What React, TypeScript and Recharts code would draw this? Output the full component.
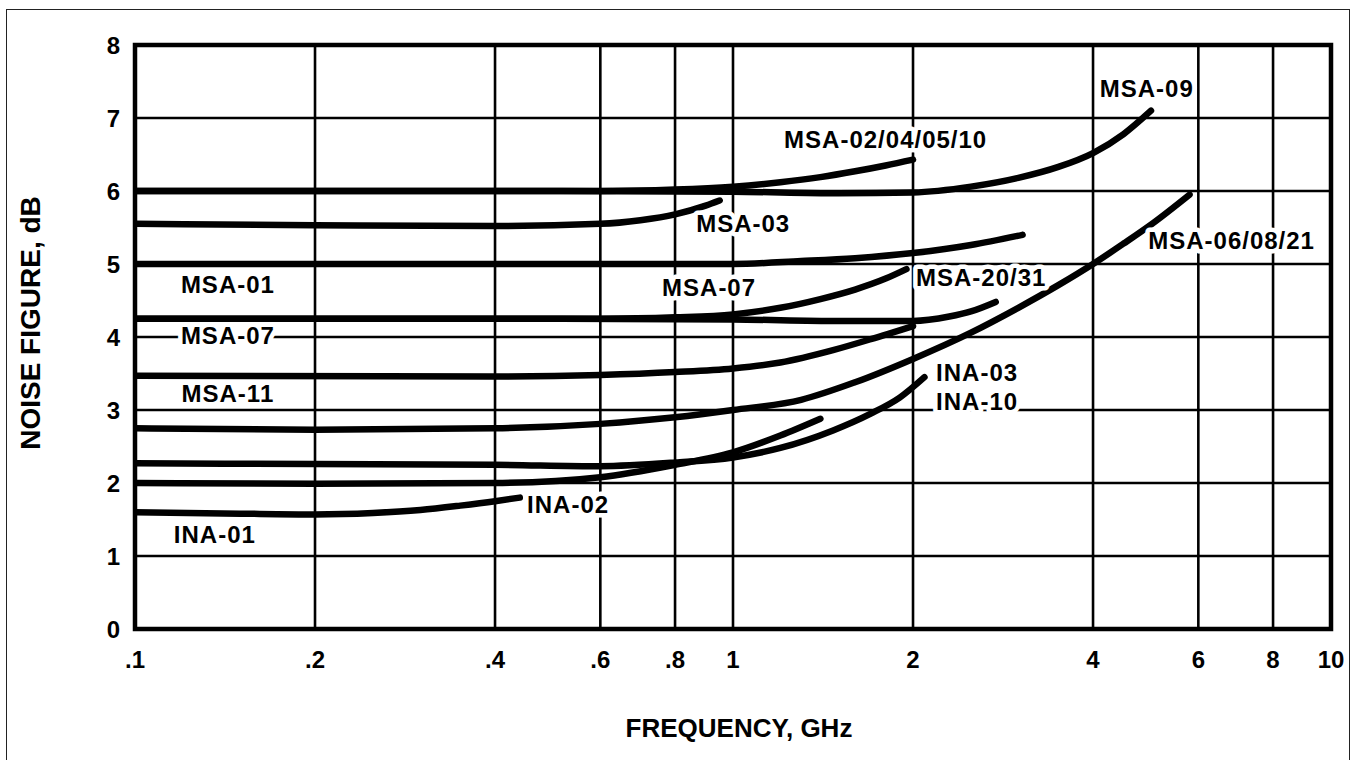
import {
  LineChart,
  Line,
  XAxis,
  YAxis,
  CartesianGrid,
  ReferenceArea,
  ReferenceDot,
} from 'recharts'

// [frequency GHz, noise figure dB]
type Pt = [number, number]

const FREQ_TICKS = [0.1, 0.2, 0.4, 0.6, 0.8, 1, 2, 4, 6, 8, 10]
const NF_TICKS = [0, 1, 2, 3, 4, 5, 6, 7, 8]

const MSA_02_04_05_10: Pt[] = [
  [0.1, 6.0], [0.2, 6.0], [0.4, 6.0], [0.6, 6.0], [0.8, 6.02], [1, 6.06],
  [1.2, 6.12], [1.4, 6.19], [1.6, 6.27], [1.8, 6.35], [2, 6.43],
]
const MSA_09: Pt[] = [
  [0.1, 6.0], [0.4, 6.0], [1, 5.99], [1.5, 5.97], [2, 5.98], [2.5, 6.06],
  [3, 6.18], [3.5, 6.33], [4, 6.52], [4.5, 6.78], [5, 7.1],
]
const MSA_03: Pt[] = [
  [0.1, 5.55], [0.2, 5.53], [0.4, 5.52], [0.6, 5.55], [0.7, 5.6],
  [0.8, 5.68], [0.9, 5.8], [0.95, 5.87],
]
const MSA_01: Pt[] = [
  [0.1, 5.0], [0.4, 5.0], [1, 5.0], [1.3, 5.04], [1.6, 5.08], [2, 5.15],
  [2.5, 5.26], [3.05, 5.4],
]
const MSA_07: Pt[] = [
  [0.1, 4.25], [0.4, 4.25], [0.6, 4.25], [0.8, 4.27], [1, 4.31], [1.2, 4.4],
  [1.4, 4.52], [1.6, 4.65], [1.8, 4.8], [1.95, 4.93],
]
const MSA_20_31: Pt[] = [
  [0.1, 4.25], [0.4, 4.25], [1, 4.24], [1.5, 4.22], [2, 4.22], [2.3, 4.28],
  [2.5, 4.35], [2.75, 4.48],
]
const MSA_11: Pt[] = [
  [0.1, 3.47], [0.4, 3.46], [0.6, 3.48], [0.8, 3.52], [1, 3.57], [1.2, 3.65],
  [1.47, 3.82], [1.7, 3.97], [2, 4.15],
]
const MSA_06_08_21: Pt[] = [
  [0.1, 2.75], [0.2, 2.73], [0.4, 2.75], [0.6, 2.81], [0.8, 2.9], [1, 3.0],
  [1.3, 3.14], [1.6, 3.38], [2, 3.7], [2.5, 4.06], [3, 4.4], [3.5, 4.71],
  [4, 5.0], [4.5, 5.28], [5, 5.54], [5.8, 5.95],
]
const INA_03_10: Pt[] = [
  [0.1, 2.27], [0.2, 2.26], [0.4, 2.25], [0.6, 2.23], [0.8, 2.28], [1, 2.35],
  [1.2, 2.48], [1.47, 2.72], [1.7, 2.95], [1.9, 3.17], [2.09, 3.45],
]
const INA_02: Pt[] = [
  [0.1, 2.0], [0.2, 1.99], [0.4, 2.0], [0.6, 2.08], [0.8, 2.25], [1, 2.42],
  [1.2, 2.65], [1.4, 2.88],
]
const INA_01: Pt[] = [
  [0.1, 1.6], [0.15, 1.58], [0.2, 1.57], [0.25, 1.59], [0.3, 1.63],
  [0.35, 1.69], [0.4, 1.75], [0.44, 1.8],
]

const CURVES = [
  MSA_02_04_05_10, MSA_09, MSA_03, MSA_01, MSA_07, MSA_20_31,
  MSA_11, MSA_06_08_21, INA_03_10, INA_02, INA_01,
]

// curve labels, placed in data coordinates (GHz, dB)
const LABEL_TEXT = [
  'MSA-09', 'MSA-02/04/05/10', 'MSA-03', 'MSA-07', 'MSA-01', 'MSA-07',
  'MSA-11', 'INA-01', 'INA-02', 'MSA-20/31', 'INA-03', 'INA-10', 'MSA-06/08/21',
]
const LABEL_F = [4.92, 1.8, 1.04, 0.912, 0.143, 0.143, 0.143, 0.136, 0.53, 2.6, 2.56, 2.56, 6.82]
const LABEL_NF = [7.4, 6.71, 5.56, 4.68, 4.72, 4.02, 3.23, 1.3, 1.71, 4.82, 3.52, 3.12, 5.32]

const FONT = '"Liberation Sans", Arial, Helvetica, sans-serif'

const fmtFreq = (f: number) => (f < 1 ? `.${Math.round(f * 10)}` : String(f))

export default function App() {
  return (
    <div
      style={{
        position: 'absolute',
        left: 0,
        top: 0,
        width: 1357,
        height: 760,
        overflow: 'hidden',
        background: '#fff',
        fontFamily: FONT,
      }}
    >
      {/* outer frame */}
      <div
        style={{
          position: 'absolute',
          left: 6,
          top: 9,
          width: 1342,
          height: 800,
          border: '1.5px solid #222',
        }}
      />

      <LineChart
        width={1357}
        height={760}
        margin={{ top: 45, right: 26, bottom: 101, left: 75 }}
        style={{ position: 'absolute', left: 0, top: 0 }}
      >
        <CartesianGrid stroke="#000" strokeWidth={2.6} />
        <XAxis
          dataKey="f"
          type="number"
          scale="log"
          domain={[0.1, 10]}
          ticks={FREQ_TICKS}
          tickFormatter={fmtFreq}
          allowDataOverflow
          height={30}
          axisLine={false}
          tickLine={false}
          tickSize={0}
          tickMargin={22}
          tick={{ fill: '#000', fontSize: 24, fontWeight: 700, fontFamily: FONT }}
        />
        <YAxis
          type="number"
          domain={[0, 8]}
          ticks={NF_TICKS}
          width={60}
          axisLine={false}
          tickLine={false}
          tickSize={0}
          tickMargin={15}
          tick={{ fill: '#000', fontSize: 24, fontWeight: 700, fontFamily: FONT }}
        />
        <ReferenceArea
          x1={0.1}
          x2={10}
          y1={0}
          y2={8}
          fill="none"
          stroke="#000"
          strokeWidth={4.5}
          ifOverflow="visible"
        />
        {CURVES.map((pts, i) => (
          <Line
            key={i}
            data={pts.map(([f, nf]) => ({ f, nf }))}
            dataKey="nf"
            type="monotone"
            stroke="#000"
            strokeWidth={6.5}
            strokeLinecap="round"
            dot={false}
            activeDot={false}
            isAnimationActive={false}
          />
        ))}
        {LABEL_TEXT.map((text, i) => (
          <ReferenceDot
            key={text + i}
            x={LABEL_F[i]}
            y={LABEL_NF[i]}
            r={1}
            ifOverflow="visible"
            shape={(p: any) => (
              <text
                x={p.cx}
                y={p.cy}
                textAnchor="middle"
                dominantBaseline="central"
                fontFamily={FONT}
                fontWeight={700}
                fontSize={24}
                letterSpacing={1}
                fill="#000"
                stroke="#fff"
                strokeWidth={9}
                strokeLinejoin="round"
                paintOrder="stroke"
              >
                {text}
              </text>
            )}
          />
        ))}
      </LineChart>

      {/* axis titles */}
      <div
        style={{
          position: 'absolute',
          left: 31,
          top: 323,
          transform: 'translate(-50%, -50%) rotate(-90deg)',
          whiteSpace: 'nowrap',
          fontSize: 28,
          fontWeight: 700,
          lineHeight: 1,
        }}
      >
        NOISE FIGURE, dB
      </div>
      <div
        style={{
          position: 'absolute',
          left: 739,
          top: 728,
          transform: 'translate(-50%, -50%)',
          whiteSpace: 'nowrap',
          fontSize: 26,
          fontWeight: 700,
          lineHeight: 1,
        }}
      >
        FREQUENCY, GHz
      </div>
    </div>
  )
}
